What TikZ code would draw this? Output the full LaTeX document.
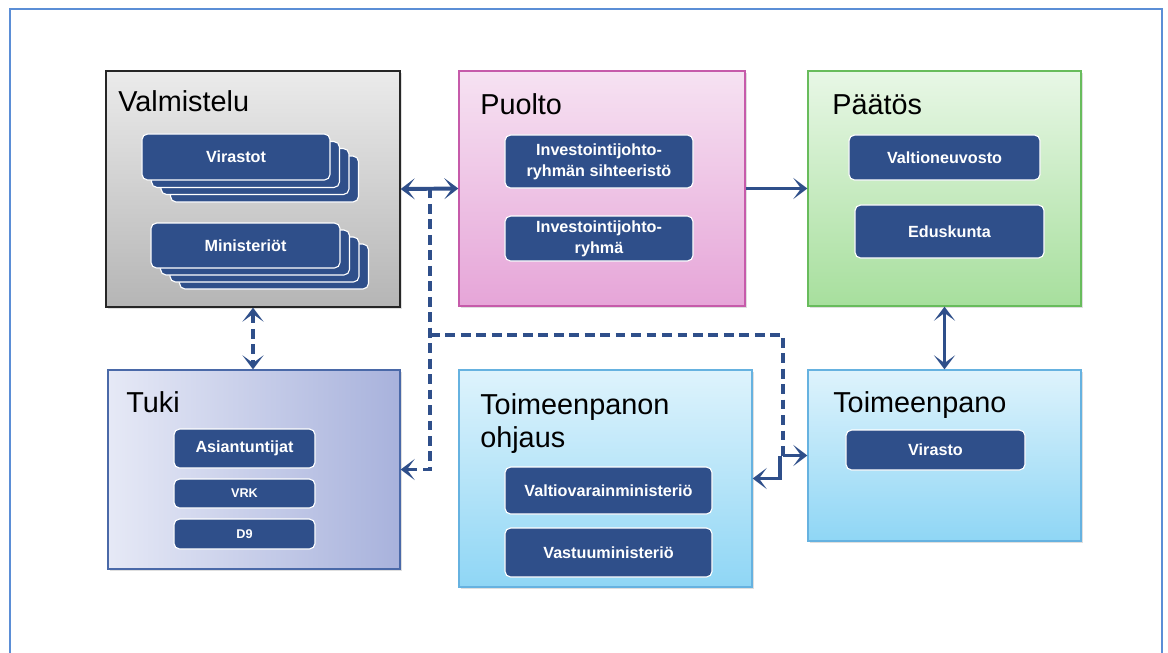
\documentclass[tikz,border=0pt]{standalone}
\usepackage{fontspec}
\setmainfont{Liberation Sans}
\usepackage{tikz}
\usetikzlibrary{positioning}
\usetikzlibrary{calc,arrows.meta,shadows}
\usepackage{color}

\definecolor{navy}{HTML}{2F4F8A}
\definecolor{frameblue}{HTML}{5B8ED6}
\definecolor{greytop}{HTML}{EBEBEB}
\definecolor{greybot}{HTML}{B5B5B5}
\definecolor{pinktop}{HTML}{F6E2F2}
\definecolor{pinkbot}{HTML}{E6A5D8}
\definecolor{pinkline}{HTML}{C65BAA}
\definecolor{greentop}{HTML}{E8F7E6}
\definecolor{greenbot}{HTML}{A7DF9D}
\definecolor{greenline}{HTML}{68BC5C}
\definecolor{lilacleft}{HTML}{E6E9F6}
\definecolor{lilacright}{HTML}{A8B2DC}
\definecolor{lilacline}{HTML}{4A69A8}
\definecolor{skytop}{HTML}{DEF3FC}
\definecolor{skybot}{HTML}{8FD6F5}
\definecolor{skyline}{HTML}{66B2E0}

\tikzset{
  box/.style={shape=rectangle,draw,line width=0.9pt,
    drop shadow={opacity=0.25,shadow xshift=1.5pt,shadow yshift=-1.5pt}},
  title/.style={anchor=base west,inner sep=0pt,align=left,
    font=\fontsize{20.5}{23.4}\selectfont},
  item/.style={shape=rectangle,draw=white,line width=0.8pt,fill=navy,
    rounded corners=4pt,text=white,align=center,inner sep=1pt,
    font=\bfseries\fontsize{11.5}{15}\selectfont},
  smallitem/.style={item,font=\bfseries\fontsize{9}{11}\selectfont},
  link/.style={draw=navy,line width=2.8pt,
    >={Stealth[length=10pt,width=15pt,inset=5.5pt]}},
  dashlink/.style={link,dash pattern=on 7pt off 4pt},
}

\begin{document}
\begin{tikzpicture}[x=0.025cm,y=-0.025cm]
\useasboundingbox (0,0) rectangle (1168,652);
% outer frame
\coordinate (fa) at (10,660);
\coordinate (fb) at (1162,9);
\coordinate (fc) at (1162,660);
\draw [frameblue,line width=1.4pt] (fa) |- (fb) -- (fc);

% main boxes
\path
(253,189) node [box,draw=black!85,top color=greytop,bottom color=greybot,
  minimum width=7.35cm,minimum height=5.9cm](valm) {}
(602,188.5) node [box,draw=pinkline,top color=pinktop,bottom color=pinkbot,
  minimum width=7.15cm,minimum height=5.875cm](puol) {}
(944.5,188.5) node [box,draw=greenline,top color=greentop,bottom color=greenbot,
  minimum width=6.825cm,minimum height=5.875cm](paat) {}
(254,469.5) node [box,draw=lilacline,left color=lilacleft,right color=lilacright,
  minimum width=7.3cm,minimum height=4.975cm](tuki) {}
(605.5,478.5) node [box,draw=skyline,top color=skytop,bottom color=skybot,
  minimum width=7.325cm,minimum height=5.425cm](ohja) {}
(944.5,455.5) node [box,draw=skyline,top color=skytop,bottom color=skybot,
  minimum width=6.825cm,minimum height=4.275cm](toim) {};

% titles
\node [title] (tvalm) at (118,111) {Valmistelu};
\node [title] (tpuol) at (480,114) {Puolto};
\node [title] (tpaat) at (832,114) {Päätös};
\node [title] (ttuki) at (126,412) {Tuki};
\node [title] (tohja) at (480,447) {Toimeenpanon\\ohjaus};
\node [title] (ttoim) at (833,412) {Toimeenpano};

% stacked cards
\path
(264.5,179) node [item,minimum width=4.7cm,minimum height=1.15cm](vir3) {}
(255,171.5) node [item,minimum width=4.7cm,minimum height=1.15cm](vir2) {}
(245.5,164.5) node [item,minimum width=4.7cm,minimum height=1.15cm](vir1) {}
(236,157) node [item,minimum width=4.7cm,minimum height=1.15cm](vir) {Virastot}
(274,266.5) node [item,minimum width=4.725cm,minimum height=1.125cm](min3) {}
(264.5,259.5) node [item,minimum width=4.725cm,minimum height=1.125cm](min2) {}
(255,252.5) node [item,minimum width=4.725cm,minimum height=1.125cm](min1) {}
(245.5,245.5) node [item,minimum width=4.725cm,minimum height=1.125cm](min) {Ministeriöt};

% inner cards
\path
(599,161.5) node [item,minimum width=4.7cm,minimum height=1.325cm](sih) {Investointijohto-\\ryhmän sihteeristö}
(599,238.5) node [item,minimum width=4.7cm,minimum height=1.125cm](ryh) {Investointijohto-\\ryhmä}
(944.5,157.5) node [item,minimum width=4.775cm,minimum height=1.125cm](vn) {Valtioneuvosto}
(949.5,231.5) node [item,minimum width=4.725cm,minimum height=1.325cm](edu) {Eduskunta}
(244.5,448.5) node [item,minimum width=3.525cm,minimum height=0.975cm](asi) {Asiantuntijat}
(244.5,493.5) node [smallitem,minimum width=3.525cm,minimum height=0.725cm](vrk) {VRK}
(244.5,534) node [smallitem,minimum width=3.525cm,minimum height=0.75cm](dnine) {D9}
(608.5,490.5) node [item,minimum width=5.175cm,minimum height=1.175cm](vvm) {Valtiovarainministeriö}
(608.5,552.5) node [item,minimum width=5.175cm,minimum height=1.225cm](vas) {Vastuuministeriö}
(935.5,450) node [item,minimum width=4.475cm,minimum height=1cm](vira) {Virasto};

% connectors
\coordinate (ja) at (430,188.5);
\coordinate (jb) at (430,335);
\coordinate (jc) at (783,455.5);
\coordinate (jd) at (780,455.5);
\draw [link,<->] (valm.east) -- (puol.west);
\draw [link,->] (puol.east) -- (paat.west);
\draw [link,<->] (paat.south) -- (toim.north);
\draw [dashlink,<->] (valm.south) -- (valm.south |- tuki.north);
\draw [dashlink,->] (ja) |- (tuki.east);
\draw [dashlink] (jb) -| (jc);
\draw [link,->] (jc) -- (jc -| toim.west);
\draw [link,->] (jd) |- (ohja.east);

\end{tikzpicture}
\end{document}
